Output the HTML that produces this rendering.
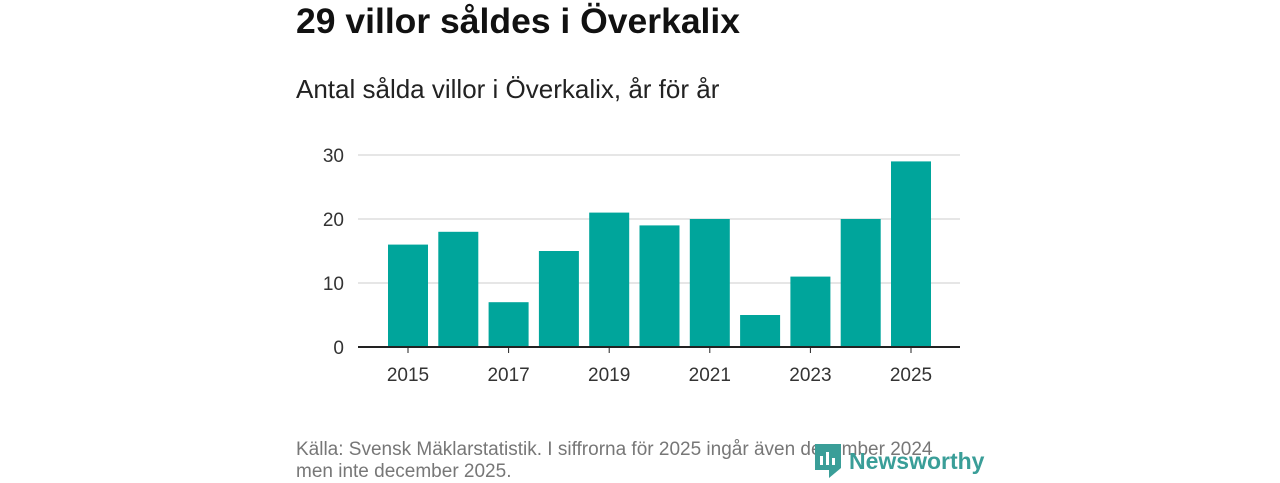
<!DOCTYPE html>
<html><head><meta charset="utf-8"><style>
body{margin:0;width:1280px;height:480px;background:#fff;font-family:"Liberation Sans",sans-serif;position:relative;overflow:hidden}
.t{position:absolute;left:296px;top:1px;font-size:35.5px;font-weight:bold;color:#111;margin:0}
.s{position:absolute;left:296px;top:74px;font-size:26px;color:#222}
.src{position:absolute;left:296px;top:439px;font-size:19px;color:#777;line-height:22px}
.logo{position:absolute;left:815px;top:444px;font-size:23px;font-weight:bold;color:#3a9e98;display:flex;align-items:center;gap:8px}
svg{position:absolute;left:0;top:0}
</style></head><body>
<h1 class="t">29 villor såldes i Överkalix</h1>
<div class="s">Antal sålda villor i Överkalix, år för år</div>
<svg id="c" width="1280" height="480"></svg>
<div class="src">Källa: Svensk Mäklarstatistik. I siffrorna för 2025 ingår även december 2024<br>men inte december 2025.</div>
<div class="logo"><svg style="position:static" width="26" height="34" viewBox="0 0 26 34"><path d="M0 0H26V24L14 34V26H0Z" fill="#3a9e98"/><rect x="5" y="12" width="3" height="9" fill="#fff"/><rect x="11" y="8" width="3" height="13" fill="#fff"/><rect x="17" y="14" width="3" height="7" fill="#fff"/></svg>Newsworthy</div>
<script>
const years=[2015,2016,2017,2018,2019,2020,2021,2022,2023,2024,2025];
const values=[16,18,7,15,21,19,20,5,11,20,29];
const yTicks=[0,10,20,30];
const ns="http://www.w3.org/2000/svg";
const svg=document.getElementById('c');
const x0=358,x1=960,y0=347,ppu=6.4,bw=40;
const first=408,step=50.3;
const y=v=>y0-v*ppu;
const xc=i=>first+step*i;
function mk(t,a){const e=document.createElementNS(ns,t);for(const k in a)e.setAttribute(k,a[k]);svg.appendChild(e);return e;}
yTicks.forEach(v=>{
 const l=mk('line',{x1:x0,x2:x1,y1:y(v),y2:y(v),stroke:v?'#ddd':'#222','stroke-width':v?1.5:2});
 
 
 const t=mk('text',{x:344,y:y(v)+7,'text-anchor':'end','font-size':19,fill:'#333'});t.textContent=v;
 
 
});
values.forEach((v,i)=>{
 const r=mk('rect',{x:xc(i)-bw/2,y:y(v),width:bw,height:v*ppu,fill:'#00a59b'});
 
 
 if(i%2==0){
  mk('line',{x1:xc(i),x2:xc(i),y1:y0,y2:y0+6,stroke:'#222','stroke-width':1});
  const t=mk('text',{x:xc(i),y:381,'text-anchor':'middle','font-size':19,fill:'#333'});t.textContent=years[i];
  
  
 }
});
mk('line',{x1:x0,x2:x1,y1:y0,y2:y0,stroke:'#222','stroke-width':2});
</script>
</body></html>
